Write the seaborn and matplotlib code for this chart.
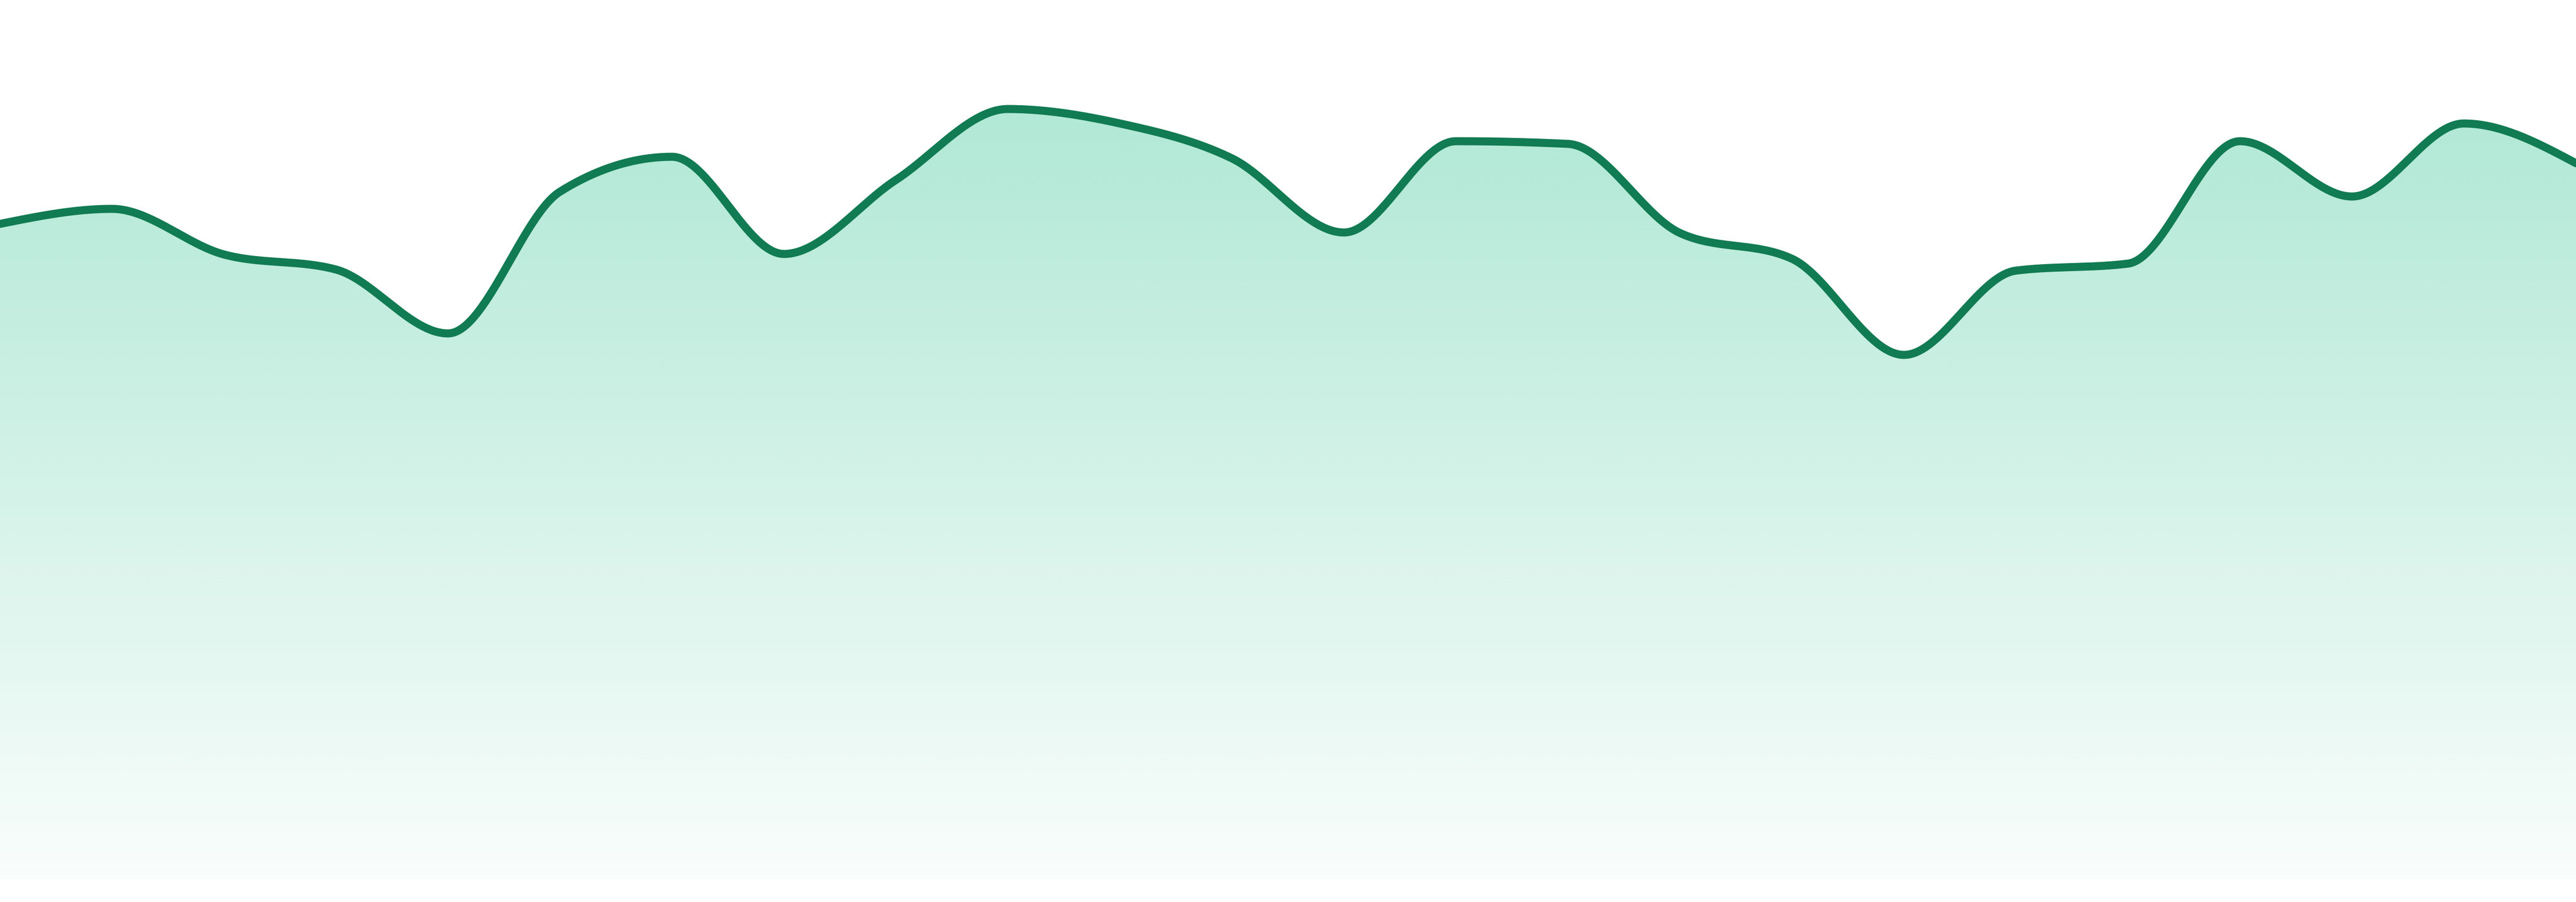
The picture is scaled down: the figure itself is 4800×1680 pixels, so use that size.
import numpy as np
import pandas as pd
import matplotlib
matplotlib.use("Agg")
import matplotlib.pyplot as plt
import seaborn as sns
from matplotlib.colors import to_rgb

# ---- data ----
points = list(range(24))
values = [1220, 1248, 1163, 1135, 1016, 1280, 1345, 1164, 1302, 1434, 1407, 1342,
          1204, 1374, 1369, 1203, 1155, 976, 1133, 1146, 1374, 1271, 1407, 1333]
y_max = 1637

line_color = "#117b53"
fill_color = "#10b981"


def monotone_x(x, y, n=60):
    """Monotone cubic interpolation (same scheme as d3.curveMonotoneX)."""
    x = np.asarray(x, float)
    y = np.asarray(y, float)
    h = np.diff(x)
    s = np.diff(y) / h
    t = np.zeros_like(y)
    sg = lambda v: -1.0 if v < 0 else 1.0
    for i in range(1, len(x) - 1):
        p = (s[i - 1] * h[i] + s[i] * h[i - 1]) / (h[i - 1] + h[i])
        t[i] = (sg(s[i - 1]) + sg(s[i])) * min(abs(s[i - 1]), abs(s[i]), 0.5 * abs(p))
    t[0] = (3 * s[0] - t[1]) / 2
    t[-1] = (3 * s[-1] - t[-2]) / 2
    xs, ys = [], []
    for i in range(len(x) - 1):
        u = np.linspace(0, 1, n, endpoint=(i == len(x) - 2))
        h00 = 2 * u**3 - 3 * u**2 + 1
        h10 = u**3 - 2 * u**2 + u
        h01 = -2 * u**3 + 3 * u**2
        h11 = u**3 - u**2
        xs.append(x[i] + u * h[i])
        ys.append(h00 * y[i] + h10 * h[i] * t[i] + h01 * y[i + 1] + h11 * h[i] * t[i + 1])
    return np.concatenate(xs), np.concatenate(ys)


sx, sy = monotone_x(points, values)
df = pd.DataFrame({"x": sx, "y": sy})

sns.set_theme(style="white")
fig = plt.figure(figsize=(16, 5.6), dpi=300)
fig.patch.set_facecolor("white")
ax = fig.add_axes([0, 43 / 1680, 1, y_max / 1680])
ax.set_xlim(points[0], points[-1])
ax.set_ylim(0, y_max)
ax.set_axis_off()

# gradient fill clipped to the area
poly = ax.fill_between(df["x"], df["y"], 0, facecolor="none", edgecolor="none")
top = max(values)
rgb = np.array(to_rgb(fill_color))
nrow = 512
alpha = np.linspace(0.33, 0.025, nrow)[:, None]
grad = np.ones((nrow, 2, 4))
grad[..., :3] = rgb
grad[..., 3] = alpha
im = ax.imshow(grad, extent=[points[0], points[-1], 0, top], origin="upper",
               aspect="auto", interpolation="bicubic", zorder=1)
clip = poly.get_paths()[0]
im.set_clip_path(clip, transform=ax.transData)

sns.lineplot(data=df, x="x", y="y", ax=ax, color=line_color, linewidth=3.6,
             sort=False, estimator=None, zorder=3)
ax.set_xlim(points[0], points[-1])
ax.set_ylim(0, y_max)
ax.set_axis_off()

fig.savefig("out.png", dpi=300, facecolor="white")
